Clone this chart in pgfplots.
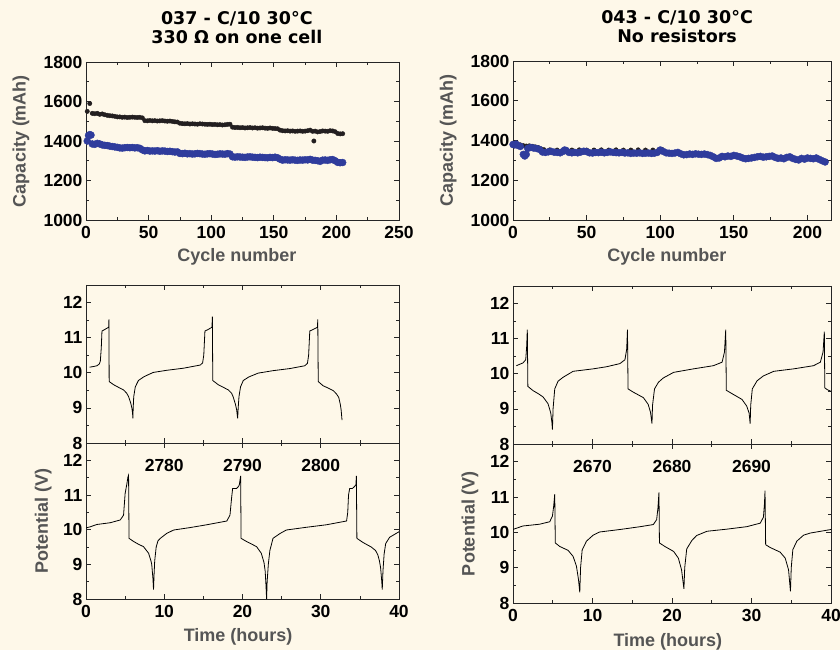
\documentclass[border=0pt]{standalone}
\usepackage{fontspec}
\setmainfont{Liberation Sans}
\newfontfamily\titlefam{DejaVu Sans}
\usepackage{pgfplots}
\pgfplotsset{compat=1.18}

\definecolor{bg}{HTML}{FEF8E9}
\definecolor{dotblue}{HTML}{2F3C9C}
\definecolor{dotblack}{HTML}{231F20}
\definecolor{labgray}{HTML}{555555}

\newcommand\ticfont{\fontsize{17.5}{18}\selectfont\bfseries}
\newcommand\labfont{\fontsize{18}{20}\selectfont\bfseries}
\newcommand\ttlfont{\titlefam\bfseries\fontsize{17.5}{19.3}\selectfont}

\pgfplotsset{
  panel/.style={
    scale only axis,
    axis line style={line width=0.8pt, black!85},
    tick align=inside,
    major tick length=5pt, minor tick length=3pt,
    every tick/.style={black!85, line width=0.7pt},
    tick label style={font=\ticfont, black},
    /pgf/number format/assume math mode=true,
    /pgf/number format/1000 sep={},
    scaled ticks=false,
    xticklabel style={yshift=-3pt},
    label style={font=\labfont, text=labgray},
    title style={font=\ttlfont, align=center, anchor=south, inner sep=0pt, yshift=12pt},
    minor x tick num=1, minor y tick num=1,
  },
  cap/.style={panel, width=313pt, height=158pt, ymin=1000, ymax=1800,
    ytick={1000,1200,...,1800}, xlabel={Cycle number}, ylabel={Capacity (mAh)}},
  volt/.style={panel, width=313pt, height=157pt, xmin=0, xmax=40, ymin=8, ymax=12.5,
    xtick={0,10,...,40}, ytick={8,9,...,12}},
  blk/.style={only marks, mark=*, mark size=2.2pt, color=dotblack},
  blu/.style={only marks, mark=*, mark size=3.5pt, color=dotblue},
  trace/.style={no marks, black, line width=0.8pt},
}

\begin{document}
\begin{tikzpicture}
\path[use as bounding box, fill=bg] (0,0) rectangle (840pt,650pt);

% --- 037, capacity
\begin{axis}[cap, at={(86pt,430pt)}, anchor=south west,
  xmin=0, xmax=250, xtick={0,50,...,250},
  title={037 - C/10 30°C\\330 Ω on one cell},
  title style={at={(axis description cs:0.482,1)}},
  xlabel style={at={(axis description cs:0.482,-0.234)}, anchor=center},
  ylabel style={at={(axis description cs:-0.2077,0.5)}, anchor=center}]
\addplot[blk] coordinates {
(1,1550) (3,1590) (5,1540) (7,1538) (9,1540) (11,1535) (13,1537) (15,1533) (17,1530) (19,1528)
(21,1527) (23,1525) (25,1522) (27,1522) (29,1520) (31,1521) (33,1519) (35,1520) (37,1521) (39,1520)
(41,1519) (43,1520) (45,1517) (47,1503) (49,1502) (51,1504) (53,1502) (55,1503) (57,1501) (59,1502)
(61,1503) (63,1501) (65,1500) (67,1501) (69,1499) (71,1497) (73,1496) (75,1490) (77,1488) (79,1487)
(81,1488) (83,1486) (85,1487) (87,1486) (89,1485) (91,1487) (93,1486) (95,1485) (97,1484) (99,1485)
(101,1483) (103,1484) (105,1482) (107,1483) (109,1481) (111,1482) (113,1484) (115,1485) (117,1470) (119,1468)
(121,1469) (123,1467) (125,1468) (127,1466) (129,1467) (131,1468) (133,1466) (135,1467) (137,1465) (139,1466)
(141,1467) (143,1465) (145,1464) (147,1466) (149,1464) (151,1463) (153,1462) (155,1455) (157,1452) (159,1451)
(161,1452) (163,1450) (165,1451) (167,1449) (169,1450) (171,1451) (173,1449) (175,1450) (177,1452) (179,1455)
(181,1449) (182,1400) (183,1450) (185,1446) (187,1448) (189,1451) (191,1450) (193,1449) (195,1452) (197,1451)
(199,1447) (201,1438) (203,1436) (205,1437)};
\addplot[blu] coordinates {
(1,1400) (2,1428) (3,1432) (4,1430) (5,1385) (7,1383) (9,1388) (11,1385) (13,1380) (15,1378)
(17,1377) (19,1374) (21,1372) (23,1370) (25,1368) (27,1365) (29,1364) (31,1366) (33,1367) (35,1366)
(37,1367) (39,1365) (41,1366) (43,1363) (45,1355) (47,1350) (49,1352) (51,1349) (53,1350) (55,1349)
(57,1351) (59,1348) (61,1350) (63,1349) (65,1347) (67,1348) (69,1346) (71,1344) (73,1345) (75,1337)
(77,1336) (79,1338) (81,1335) (83,1336) (85,1334) (87,1335) (89,1337) (91,1336) (93,1334) (95,1333)
(97,1335) (99,1336) (101,1334) (103,1332) (105,1333) (107,1335) (109,1334) (111,1333) (113,1336) (115,1334)
(117,1320) (119,1318) (121,1320) (123,1319) (125,1318) (127,1317) (129,1319) (131,1320) (133,1318) (135,1317)
(137,1316) (139,1318) (141,1317) (143,1316) (145,1315) (147,1317) (149,1316) (151,1318) (153,1315) (155,1308)
(157,1303) (159,1305) (161,1304) (163,1303) (165,1305) (167,1303) (169,1302) (171,1304) (173,1303) (175,1305)
(177,1304) (179,1307) (181,1303) (183,1302) (185,1300) (187,1297) (189,1303) (191,1304) (193,1302) (195,1305)
(197,1306) (199,1300) (201,1292) (203,1290) (205,1291)};
\end{axis}

% --- 043, capacity
\begin{axis}[cap, at={(513pt,430pt)}, anchor=south west, width=318pt, height=159pt,
  xmin=0, xmax=216, xtick={0,50,...,200},
  title={043 - C/10 30°C\\No resistors},
  title style={at={(axis description cs:0.516,1)}},
  xlabel style={at={(axis description cs:0.484,-0.233)}, anchor=center},
  ylabel style={at={(axis description cs:-0.204,0.5)}, anchor=center}]
\addplot[blk] coordinates {
(1,1384) (3,1382) (5,1378) (7,1374) (9,1372) (11,1373) (13,1371) (15,1368) (17,1365) (19,1358)
(21,1354) (25,1353) (30,1352) (35,1354) (40,1352) (45,1353) (50,1352) (55,1352) (60,1353) (65,1352)
(70,1353) (75,1352) (80,1352) (85,1353) (90,1352) (95,1352) (99,1353) (101,1356) (110,1340) (120,1334)
(130,1334) (140,1316) (150,1326) (160,1314) (170,1320) (180,1314) (190,1314) (200,1315) (210,1300)};
\addplot[blu] coordinates {
(0,1380) (1,1378) (2,1382) (3,1376) (5,1370) (7,1330) (8,1322) (9,1330) (10,1360) (12,1365)
(14,1362) (16,1360) (18,1355) (20,1342) (22,1340) (24,1343) (26,1345) (28,1341) (30,1340) (32,1338)
(34,1345) (35,1352) (36,1350) (38,1340) (40,1338) (42,1340) (44,1338) (46,1342) (48,1346) (50,1344)
(52,1338) (54,1337) (56,1340) (58,1339) (60,1341) (62,1338) (64,1340) (66,1343) (68,1340) (70,1339)
(72,1338) (74,1340) (76,1337) (78,1338) (80,1335) (82,1337) (84,1336) (86,1338) (88,1335) (90,1336)
(92,1337) (94,1335) (96,1336) (98,1340) (100,1352) (102,1345) (104,1338) (106,1336) (108,1335) (110,1337)
(112,1340) (114,1333) (116,1328) (118,1329) (120,1332) (122,1330) (124,1333) (126,1331) (128,1330) (130,1332)
(132,1329) (134,1325) (136,1318) (138,1310) (140,1312) (142,1320) (144,1318) (146,1322) (148,1320) (150,1325)
(152,1322) (154,1318) (156,1312) (158,1308) (160,1310) (162,1312) (164,1315) (166,1318) (168,1320) (170,1316)
(172,1318) (174,1320) (176,1322) (178,1315) (180,1310) (182,1312) (184,1308) (186,1315) (188,1318) (190,1310)
(192,1305) (194,1302) (196,1310) (198,1306) (200,1312) (202,1310) (204,1308) (206,1312) (208,1305) (210,1298)
(212,1292)};
\end{axis}

% --- 037, potential, upper
\begin{axis}[volt, at={(86pt,207pt)}, anchor=south west, height=158pt, xticklabels={}]
\addplot[trace] coordinates {
(0.47,10.16) (1.0,10.18) (1.4,10.2) (1.7,10.25) (1.83,10.33) (1.95,10.7) (2.04,11.19) (2.3,11.22)
(2.76,11.28) (2.9,11.3) (2.93,11.52) (2.96,9.75) (3.53,9.66) (4.2,9.58) (4.8,9.51) (5.2,9.42)
(5.44,9.32) (5.7,9.15) (5.86,9.0) (5.95,8.85) (5.99,8.7) (6.03,9.0) (6.1,9.32) (6.3,9.6)
(6.7,9.78) (7.35,9.88) (8.0,9.95) (8.6,10.01) (10.3,10.07) (12.45,10.13) (14.6,10.22) (14.9,10.28)
(15.05,10.5) (15.2,11.19) (15.5,11.22) (15.98,11.28) (16.1,11.3) (16.15,11.6) (16.2,9.78) (16.9,9.66)
(17.6,9.58) (18.2,9.51) (18.6,9.42) (18.8,9.32) (19.1,9.1) (19.25,8.95) (19.38,8.7) (19.45,9.0)
(19.55,9.32) (19.75,9.6) (20.1,9.78) (20.8,9.88) (22.0,9.99) (23.9,10.06) (26.05,10.12) (27.97,10.2)
(28.3,10.27) (28.45,10.5) (28.6,11.19) (28.9,11.22) (29.45,11.28) (29.58,11.3) (29.62,11.52) (29.68,9.75)
(30.3,9.63) (31.0,9.56) (31.6,9.49) (32.0,9.4) (32.3,9.3) (32.5,9.1) (32.6,8.95) (32.72,8.65)};
\end{axis}

% --- 037, potential, lower
\begin{axis}[volt, at={(86pt,51pt)}, anchor=south west, height=156pt,
  xlabel={Time (hours)}, ylabel={Potential (V)},
  xlabel style={at={(axis description cs:0.486,-0.244)}, anchor=center},
  ylabel style={at={(axis description cs:-0.137,0.5)}, anchor=center}]
\addplot[trace] coordinates {
(0.0,10.05) (0.5,10.08) (1.4,10.15) (3.1,10.2) (4.38,10.28) (4.8,10.42) (5.0,11.04) (5.23,11.33)
(5.36,11.52) (5.44,11.57) (5.5,9.75) (6.08,9.66) (6.7,9.58) (7.35,9.51) (8.0,9.32) (8.3,9.1)
(8.4,9.0) (8.55,8.6) (8.63,8.27) (8.7,8.7) (8.78,9.1) (8.97,9.5) (9.2,9.68) (9.5,9.75)
(10.3,9.89) (11.2,9.99) (13.3,10.06) (15.4,10.14) (18.0,10.25) (18.4,10.42) (18.6,10.9) (18.74,11.19)
(19.25,11.19) (19.5,11.25) (19.6,11.3) (19.76,11.55) (19.82,9.75) (20.5,9.66) (21.2,9.58) (21.8,9.51)
(22.4,9.32) (22.75,9.05) (22.9,8.8) (23.0,8.4) (23.08,8.0) (23.15,8.5) (23.3,9.0) (23.5,9.4)
(23.9,9.75) (24.8,9.89) (25.6,9.99) (28.2,10.07) (30.7,10.14) (33.3,10.25) (33.45,10.5) (33.55,11.0)
(33.7,11.19) (34.05,11.19) (34.34,11.25) (34.5,11.3) (34.55,11.55) (34.62,9.75) (35.4,9.63) (36.45,9.5)
(37.0,9.4) (37.3,9.27) (37.5,9.1) (37.65,8.9) (37.8,8.5) (37.86,8.27) (37.95,8.8) (38.1,9.3)
(38.3,9.6) (38.8,9.78) (39.4,9.86) (40.0,9.94)};
\node[font=\ticfont] at (axis cs:10,11.85) {2780};
\node[font=\ticfont] at (axis cs:20,11.85) {2790};
\node[font=\ticfont] at (axis cs:30,11.85) {2800};
\end{axis}

% --- 043, potential, upper
\begin{axis}[volt, at={(513pt,206pt)}, anchor=south west, width=318pt, height=158pt, xticklabels={}]
\addplot[trace] coordinates {
(0.42,10.23) (1.26,10.31) (1.6,10.4) (1.72,10.78) (1.8,11.26) (1.87,9.64) (2.52,9.52) (3.2,9.43)
(3.78,9.34) (4.4,9.15) (4.6,9.0) (4.75,8.88) (4.9,8.6) (4.96,8.41) (5.04,9.0) (5.25,9.57)
(5.67,9.79) (6.3,9.9) (7.56,10.07) (10.08,10.14) (11.76,10.2) (13.45,10.29) (14.08,10.4) (14.3,10.7)
(14.4,11.26) (14.47,9.57) (15.1,9.48) (16.4,9.32) (17.0,9.13) (17.3,8.9) (17.48,8.58) (17.55,9.1)
(17.8,9.57) (18.3,9.76) (18.9,9.88) (20.2,10.04) (22.7,10.14) (25.2,10.23) (26.3,10.33) (26.6,10.62)
(26.76,11.26) (26.83,9.53) (27.5,9.44) (28.8,9.27) (29.4,9.08) (29.7,8.88) (29.83,8.58) (29.9,9.1)
(30.1,9.57) (30.7,9.8) (31.5,9.94) (32.8,10.07) (35.3,10.14) (37.8,10.23) (38.66,10.33) (39.0,10.62)
(39.16,11.2) (39.22,9.6) (39.5,9.55) (40,9.5)};
\end{axis}

% --- 043, potential, lower
\begin{axis}[volt, at={(513pt,47pt)}, anchor=south west, width=318pt, height=159pt,
  xlabel={Time (hours)}, ylabel={Potential (V)},
  xlabel style={at={(axis description cs:0.487,-0.245)}, anchor=center},
  ylabel style={at={(axis description cs:-0.135,0.5)}, anchor=center}]
\addplot[trace] coordinates {
(0.0,10.08) (0.21,10.1) (1.26,10.18) (3.36,10.23) (4.62,10.3) (4.96,10.46) (5.12,10.75) (5.25,11.08)
(5.32,9.7) (5.88,9.6) (6.93,9.49) (7.56,9.32) (7.98,9.04) (8.24,8.66) (8.4,8.3) (8.5,9.0)
(8.7,9.5) (9.24,9.75) (10.08,9.92) (10.9,10.01) (13.45,10.08) (16.0,10.16) (17.65,10.22) (18.07,10.36)
(18.23,10.69) (18.36,11.13) (18.42,9.7) (19.1,9.6) (20.2,9.46) (20.8,9.27) (21.2,8.94) (21.5,8.4)
(21.6,9.0) (21.85,9.53) (22.5,9.77) (23.1,9.91) (24.4,10.03) (26.9,10.09) (29.4,10.16) (31.1,10.26)
(31.5,10.43) (31.63,10.81) (31.7,11.18) (31.78,9.65) (32.35,9.57) (33.6,9.44) (34.24,9.27) (34.66,8.94)
(34.9,8.33) (35.0,9.0) (35.2,9.51) (35.7,9.75) (36.55,9.92) (37.4,9.98) (40,10.08)};
\node[font=\ticfont] at (axis cs:10,11.85) {2670};
\node[font=\ticfont] at (axis cs:20,11.85) {2680};
\node[font=\ticfont] at (axis cs:30,11.85) {2690};
\end{axis}
\end{tikzpicture}
\end{document}
